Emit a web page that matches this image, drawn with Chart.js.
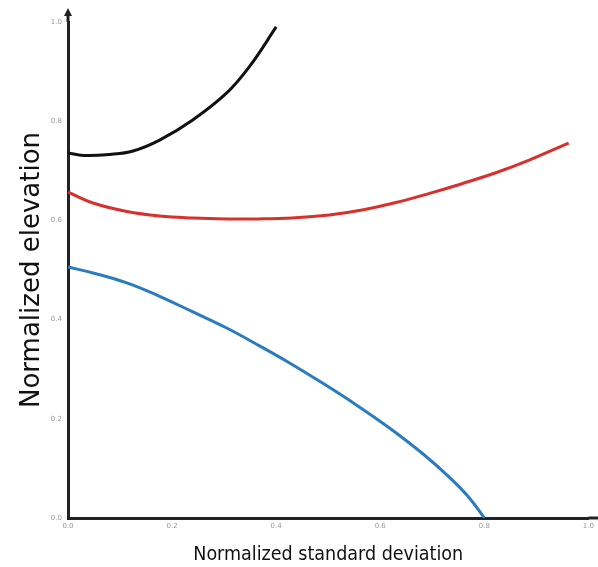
<!DOCTYPE html>
<html>
<head>
<meta charset="utf-8">
<script src="https://cdn.jsdelivr.net/npm/chart.js@4"></script>
<style>
  html, body { margin: 0; padding: 0; background: #fff; }
  #wrap { width: 598px; height: 567px; }
</style>
</head>
<body>
<div id="wrap"><canvas id="chart"></canvas></div>
<script>
// values (x = normalized std dev, y = normalized elevation)
const blackX = [0.0, 0.03, 0.08, 0.125, 0.176, 0.239, 0.305, 0.35, 0.40];
const blackY = [0.736, 0.731, 0.733, 0.740, 0.762, 0.802, 0.857, 0.912, 0.99];

const redX = [0.0, 0.048, 0.113, 0.176, 0.239, 0.305, 0.368, 0.431, 0.502, 0.565, 0.63, 0.693, 0.757, 0.822, 0.885, 0.962];
const redY = [0.657, 0.635, 0.618, 0.609, 0.605, 0.603, 0.603, 0.605, 0.611, 0.621, 0.636, 0.654, 0.674, 0.696, 0.721, 0.756];

const blueX = [0.0, 0.048, 0.113, 0.176, 0.239, 0.305, 0.368, 0.425, 0.489, 0.554, 0.617, 0.68, 0.732, 0.77, 0.80];
const blueY = [0.506, 0.494, 0.474, 0.447, 0.416, 0.383, 0.347, 0.313, 0.272, 0.228, 0.182, 0.131, 0.083, 0.042, 0.0];

const xTicks = [0.0, 0.2, 0.4, 0.6, 0.8, 1.0];
const yTicks = [0.0, 0.2, 0.4, 0.6, 0.8, 1.0];

const toPoints = (xs, ys) => xs.map((x, i) => ({ x: x, y: ys[i] }));

const arrowPlugin = {
  id: 'axisArrow',
  afterDraw(chart) {
    const { ctx, chartArea } = chart;
    const x = chartArea.left;
    ctx.save();
    ctx.fillStyle = '#222';
    ctx.strokeStyle = '#222';
    ctx.lineWidth = 3;
    ctx.beginPath();
    ctx.moveTo(x, chartArea.top);
    ctx.lineTo(x, 14);
    ctx.stroke();
    ctx.beginPath();
    ctx.moveTo(x, 8);
    ctx.lineTo(x - 4, 16);
    ctx.lineTo(x + 4, 16);
    ctx.closePath();
    ctx.fill();
    // x axis runs on to the right edge
    ctx.beginPath();
    ctx.moveTo(chartArea.right, chartArea.bottom);
    ctx.lineTo(chart.width, chartArea.bottom);
    ctx.stroke();
    ctx.restore();
  }
};

new Chart(document.getElementById('chart'), {
  type: 'scatter',
  data: {
    datasets: [
      { label: 'black', data: toPoints(blackX, blackY), borderColor: '#111111' },
      { label: 'red', data: toPoints(redX, redY), borderColor: '#d8302c' },
      { label: 'blue', data: toPoints(blueX, blueY), borderColor: '#2b7bbf' },
    ].map(d => Object.assign(d, {
      showLine: true,
      pointRadius: 0,
      borderWidth: 3,
      tension: 0.4,
      fill: false,
    })),
  },
  options: {
    responsive: true,
    maintainAspectRatio: false,
    animation: false,
    layout: { padding: { top: 22, right: 8, left: 0, bottom: 0 } },
    plugins: { legend: { display: false }, tooltip: { enabled: false } },
    scales: {
      x: {
        type: 'linear',
        min: 0, max: 1,
        afterFit: s => { s.height = 49; },
        afterBuildTicks: s => { s.ticks = xTicks.map(v => ({ value: v })); },
        grid: { display: false, drawTicks: false },
        border: { color: '#222', width: 3 },
        ticks: {
          color: '#999',
          font: { size: 7, family: 'DejaVu Sans' },
          padding: 4,
          callback: v => v.toFixed(1),
        },
        title: {
          display: true,
          text: 'Normalized standard deviation',
          color: '#111',
          font: { size: 19.5, family: 'DejaVu Sans Condensed' },
          padding: { top: 6, bottom: 0 },
        },
      },
      y: {
        type: 'linear',
        min: 0, max: 1,
        afterFit: s => { s.width = 68; },
        afterBuildTicks: s => { s.ticks = yTicks.map(v => ({ value: v })); },
        grid: { display: false, drawTicks: false },
        border: { color: '#222', width: 3 },
        ticks: {
          color: '#999',
          font: { size: 7, family: 'DejaVu Sans' },
          padding: 6,
          callback: v => v.toFixed(1),
        },
        title: {
          display: true,
          text: 'Normalized elevation',
          color: '#111',
          font: { size: 26, family: 'DejaVu Sans' },
          padding: { top: 17, bottom: 0 },
        },
      },
    },
  },
  plugins: [arrowPlugin],
});
</script>
</body>
</html>
